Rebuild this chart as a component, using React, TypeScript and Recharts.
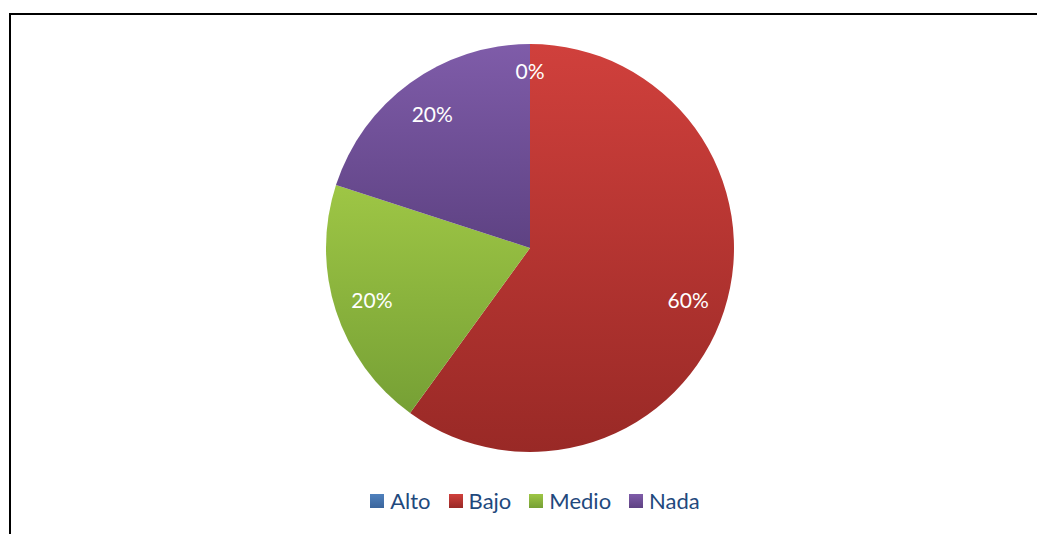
import React from "react";
import { PieChart, Pie, Cell, Legend } from "recharts";

const categories = ["Alto", "Bajo", "Medio", "Nada"];
const values = [0, 60, 20, 20];
const percentLabels = ["0%", "60%", "20%", "20%"];

const topColors = ["#4F81BD", "#D0403C", "#9EC645", "#7F5CA9"];
const bottomColors = ["#3A659C", "#992926", "#76A035", "#5E4283"];

const data = categories.map((name, i) => ({ name, value: values[i], label: percentLabels[i] }));

const RAD = Math.PI / 180;

const renderLabel = (props: any) => {
  const { cx, cy, midAngle, outerRadius, index } = props;
  const r = values[index] === 0 ? outerRadius * 0.87 : outerRadius * 0.815;
  const x = cx + r * Math.cos(-midAngle * RAD);
  const y = cy + r * Math.sin(-midAngle * RAD);
  return (
    <text
      x={x}
      y={y}
      fill="#FFFFFF"
      textAnchor="middle"
      dominantBaseline="central"
      fontFamily="Lato, 'Open Sans', sans-serif"
      fontSize={21}
    >
      {percentLabels[index]}
    </text>
  );
};

const renderLegend = () => (
  <div
    style={{
      display: "flex",
      justifyContent: "center",
      alignItems: "center",
      fontFamily: "Lato, 'Open Sans', sans-serif",
      fontSize: 22,
      color: "#1F497D",
    }}
  >
    {categories.map((c, i) => (
      <div key={c} style={{ display: "flex", alignItems: "center", marginRight: i < 3 ? 18 : 0 }}>
        <div
          style={{
            width: 14,
            height: 14,
            background: `linear-gradient(${topColors[i]}, ${bottomColors[i]})`,
            marginRight: 6,
          }}
        />
        <span>{c}</span>
      </div>
    ))}
  </div>
);

export default function App() {
  return (
    <div style={{ position: "fixed", left: 0, top: 0, width: 1037, height: 534, background: "#fff", overflow: "hidden" }}>
      <svg width={1037} height={534} style={{ position: "absolute", left: 0, top: 0 }}>
        <path d="M 10 600 L 10 14 L 1037 14" fill="none" stroke="#000" strokeWidth={2} />
      </svg>
      <div style={{ position: "absolute", left: 0, top: 0 }}>
        <PieChart width={1037} height={534} margin={{ top: 0, right: 0, bottom: 0, left: 0 }}>
          <defs>
            {categories.map((c, i) => (
              <linearGradient key={c} id={`grad${i}`} x1="0" y1="0" x2="0" y2="1">
                <stop offset="0%" stopColor={topColors[i]} />
                <stop offset="100%" stopColor={bottomColors[i]} />
              </linearGradient>
            ))}
          </defs>
          <Pie
            data={data}
            dataKey="value"
            nameKey="name"
            cx={530}
            cy={248}
            outerRadius={204}
            startAngle={90}
            endAngle={-270}
            stroke="none"
            label={renderLabel}
            labelLine={false}
            isAnimationActive={false}
          >
            {data.map((d, i) => (
              <Cell key={d.name} fill={`url(#grad${i})`} />
            ))}
          </Pie>
          <Legend
            content={renderLegend}
            verticalAlign="bottom"
            wrapperStyle={{ position: "absolute", top: 487, left: 0, width: 1070 }}
          />
        </PieChart>
      </div>
    </div>
  );
}
